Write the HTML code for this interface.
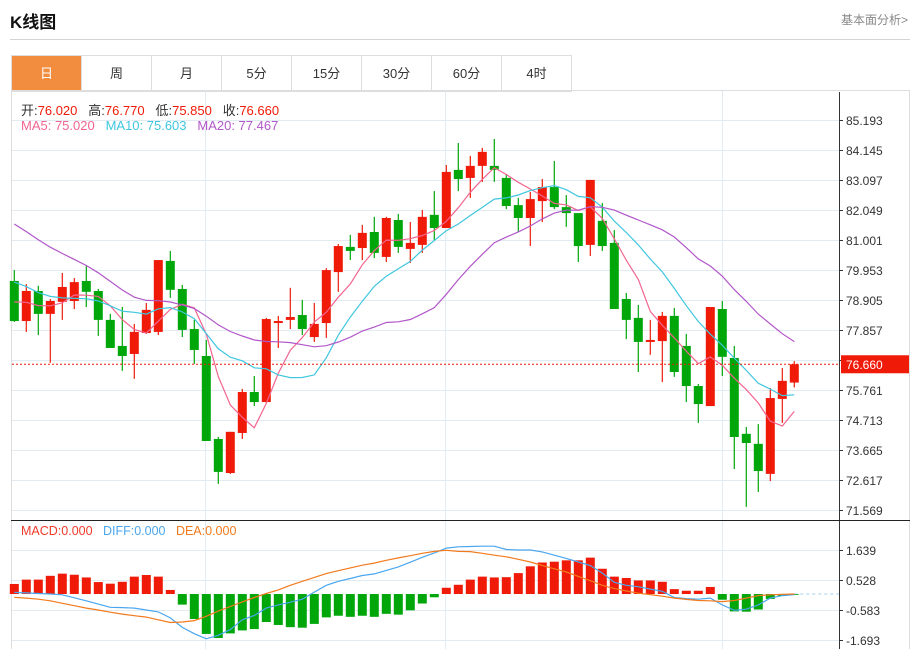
<!DOCTYPE html>
<html><head><meta charset="utf-8">
<style>
body{margin:0;width:916px;height:649px;background:#fff;font-family:"Liberation Sans","Noto Sans CJK SC",sans-serif;overflow:hidden;position:relative}
.title{position:absolute;left:10px;top:8px;font-size:17px;font-weight:bold;color:#111}
.more{position:absolute;right:8px;top:11px;font-size:12px;color:#888}
.hline{position:absolute;left:10px;width:900px;top:39px;height:1px;background:#d4d4d4}
.tabs{position:absolute;left:11px;top:55px;height:35px;display:flex;border:1px solid #ddd;border-right:none}
.tab{width:69px;height:35px;border-right:1px solid #ddd;text-align:center;line-height:35px;font-size:13px;color:#333}
.tab.on{background:#f28c3e;color:#fff}
svg{position:absolute;left:0;top:0}
</style></head><body>
<div class="title">K线图</div>
<div class="more">基本面分析&gt;</div>
<div class="hline"></div>
<div class="tabs">
<div class="tab on">日</div>
<div class="tab">周</div>
<div class="tab">月</div>
<div class="tab">5分</div>
<div class="tab">15分</div>
<div class="tab">30分</div>
<div class="tab">60分</div>
<div class="tab">4时</div>
</div>
<svg id="c" width="916" height="649"></svg>
<script>
const opens=[79.57,78.17,79.22,78.42,78.84,78.87,79.57,79.22,78.21,77.30,77.02,77.75,77.79,80.27,79.29,77.89,76.95,74.05,72.86,74.26,75.69,75.34,78.10,78.21,78.38,77.61,78.10,79.88,80.76,80.72,81.28,80.41,81.70,80.69,80.83,81.88,81.42,83.45,83.17,83.59,83.59,83.17,82.22,81.77,82.36,82.85,82.15,81.94,80.83,81.67,80.90,78.94,78.28,77.44,77.47,78.35,77.30,75.90,75.20,78.59,76.88,74.23,73.88,72.83,75.45,76.02];
const highs=[79.95,79.46,79.40,78.94,79.85,79.67,80.13,79.29,78.42,78.66,78.07,78.80,80.30,80.62,79.43,78.21,77.51,74.12,74.30,75.80,76.25,78.28,78.35,79.33,78.91,78.80,80.02,80.86,81.18,81.53,81.81,81.81,81.91,81.63,82.05,82.71,83.62,84.39,83.94,84.22,84.53,83.31,82.47,82.68,83.13,83.76,82.57,81.94,83.10,82.29,81.35,79.15,78.73,78.21,78.49,78.63,77.72,75.97,78.66,78.87,77.30,74.47,74.57,75.83,76.53,76.77];
const lows=[78.14,77.79,77.68,76.71,78.21,78.59,78.66,77.65,77.23,76.43,76.15,77.72,77.68,78.98,77.61,76.67,73.98,72.48,72.83,74.05,75.20,75.31,77.23,77.89,77.68,77.44,77.58,79.19,80.30,80.30,80.37,80.23,80.55,80.20,80.55,81.00,81.42,82.71,82.47,83.03,83.03,82.08,81.28,80.79,81.63,82.08,81.46,80.23,80.44,80.62,78.59,77.54,76.39,76.99,76.04,76.22,75.34,74.61,75.20,76.25,73.00,71.68,72.20,72.58,74.61,75.85];
const closes=[78.17,79.22,78.42,78.87,79.36,79.53,79.19,78.21,77.23,76.95,77.79,78.56,80.30,79.26,77.86,77.16,73.98,72.90,74.30,75.69,75.34,78.24,78.17,78.31,77.89,78.07,79.95,80.79,80.62,81.25,80.55,81.77,80.76,80.90,81.81,81.42,83.38,83.13,83.59,84.08,83.45,82.19,81.77,82.43,82.85,82.15,81.94,80.79,83.10,80.79,78.59,78.21,77.44,77.51,78.35,76.39,75.90,75.27,78.66,76.92,74.12,73.91,72.93,75.48,76.08,76.66];
const priorCloses=[84.5,84.2,84.0,83.8,83.6,83.5,83.3,83.2,83.0,82.8,80.8,80.5,80.2,79.9,79.7,79.3,79.0,78.9,78.83];
const macdBars=[0.37,0.53,0.53,0.67,0.75,0.71,0.61,0.44,0.38,0.45,0.64,0.70,0.64,0.15,-0.39,-0.92,-1.47,-1.62,-1.45,-1.34,-1.29,-1.03,-1.14,-1.22,-1.24,-1.10,-0.86,-0.80,-0.84,-0.80,-0.84,-0.73,-0.76,-0.60,-0.35,-0.12,0.23,0.34,0.53,0.64,0.61,0.62,0.77,1.02,1.16,1.19,1.24,1.24,1.34,0.93,0.64,0.59,0.50,0.50,0.45,0.18,0.12,0.12,0.26,-0.21,-0.64,-0.65,-0.57,-0.18,-0.07,-0.02];
const diffVals=[0.06,0.04,0.02,0,-0.03,-0.14,-0.25,-0.37,-0.49,-0.50,-0.52,-0.59,-0.66,-0.88,-1.23,-1.46,-1.65,-1.52,-1.31,-0.95,-0.79,-0.52,-0.40,-0.30,-0.19,0.07,0.32,0.47,0.57,0.68,0.74,0.87,1.0,1.17,1.35,1.51,1.69,1.74,1.75,1.76,1.76,1.64,1.62,1.62,1.55,1.43,1.31,1.18,1.05,0.77,0.43,0.32,0.27,0.18,0.10,-0.13,-0.17,-0.19,-0.15,-0.40,-0.60,-0.56,-0.40,-0.15,-0.06,-0.02];
const deaVals=[-0.12,-0.15,-0.19,-0.25,-0.34,-0.43,-0.52,-0.59,-0.67,-0.74,-0.80,-0.85,-0.95,-1.05,-1.03,-0.98,-0.82,-0.63,-0.46,-0.29,-0.13,0.02,0.15,0.32,0.47,0.61,0.75,0.86,0.96,1.06,1.14,1.24,1.33,1.41,1.50,1.57,1.61,1.57,1.56,1.50,1.43,1.37,1.28,1.18,1.05,0.93,0.81,0.65,0.49,0.32,0.20,0.11,0.03,-0.02,-0.08,-0.15,-0.20,-0.24,-0.25,-0.28,-0.24,-0.15,-0.06,-0.03,-0.01,0];
const priceTicks=["85.193","84.145","83.097","82.049","81.001","79.953","78.905","77.857","76.809","75.761","74.713","73.665","72.617","71.569"];
const macdTicks=["1.639","0.528","-0.583","-1.693"];
const priceTop=85.193,priceBot=71.569,macdTop=1.639,macdBot=-1.693;

const NS="http://www.w3.org/2000/svg",svg=document.getElementById('c');
function mk(t,a,p){const e=document.createElementNS(NS,t);for(const k in a)e.setAttribute(k,a[k]);(p||svg).appendChild(e);return e;}
const X=i=>14.3+i*12;
const Y=p=>120+(priceTop-p)*(390/(priceTop-priceBot));
const YM=v=>549.5+(macdTop-v)*(90.5/(macdTop-macdBot));
const RED="#f01a08",GRN="#00a60a";
mk('rect',{x:11.5,y:90.5,width:898,height:560,fill:'none',stroke:'#ddd'});
priceTicks.forEach(t=>{const y=Math.round(Y(+t))+0.5;mk('line',{x1:12,x2:839,y1:y,y2:y,stroke:'#e3ebf2'});
 mk('line',{x1:839,x2:843,y1:y,y2:y,stroke:'#333'});
 const e=mk('text',{x:846,y:y+4.5,'font-size':12,fill:'#333'});e.textContent=t;});
macdTicks.forEach(t=>{const y=Math.round(YM(+t))+0.5;mk('line',{x1:12,x2:839,y1:y,y2:y,stroke:'#e3ebf2'});
 mk('line',{x1:839,x2:843,y1:y,y2:y,stroke:'#333'});
 const e=mk('text',{x:846,y:y+4.5,'font-size':12,fill:'#333'});e.textContent=t;});
[205.5,445.5,722.5].forEach(x=>mk('line',{x1:x,x2:x,y1:91,y2:649,stroke:'#e3ebf2'}));
mk('line',{x1:839.5,x2:839.5,y1:92,y2:649,stroke:'#333'});
mk('line',{x1:11,x2:910,y1:520.5,y2:520.5,stroke:'#222'});
for(let i=0;i<opens.length;i++){
 const up=closes[i]>=opens[i],col=up?RED:GRN,x=X(i);
 const g=mk('g',{});
 mk('line',{x1:x,x2:x,y1:Y(highs[i]),y2:Y(lows[i]),stroke:col,'stroke-width':1.2},g);
 const t=Y(Math.max(opens[i],closes[i])),b=Y(Math.min(opens[i],closes[i]));
 mk('rect',{x:x-4.5,y:t,width:9,height:Math.max(1.5,b-t),fill:col},g);
}
const all=priorCloses.concat(closes),off=priorCloses.length;
function ma(n){return closes.map((c,i)=>{let s=0;for(let k=0;k<n;k++)s+=all[off+i-k];return s/n;});}
[[5,'#f2658f','ma5-line'],[10,'#3fc6df','ma10-line'],[20,'#b257c9','ma20-line']].forEach(([n,c,nm])=>{
 const v=ma(n);const p=mk('polyline',{points:v.map((m,i)=>X(i)+','+Y(m).toFixed(1)).join(' '),fill:'none',stroke:c,'stroke-width':1.2});
 });
const cy=Y(closes[closes.length-1]);
mk('line',{x1:12,x2:839,y1:cy,y2:cy,stroke:RED,'stroke-dasharray':'2,2'});
mk('rect',{x:841,y:cy-9,width:68,height:18,fill:RED});
const pl=mk('text',{x:846,y:cy+4.5,'font-size':12,fill:'#fff'});pl.textContent=closes[closes.length-1].toFixed(3);

const z=YM(0);
mk('line',{x1:X(macdBars.length-1),x2:839,y1:z,y2:z,stroke:'#9fd0ee','stroke-dasharray':'3,3'});
macdBars.forEach((b,i)=>{const y=YM(b);const r=mk('rect',{x:X(i)-4.5,y:Math.min(y,z),width:9,height:Math.max(0.8,Math.abs(y-z)),fill:b>=0?RED:GRN});
 });
[[diffVals,'#4aa6ee','diff-line'],[deaVals,'#f27a1c','dea-line']].forEach(([a,c,nm])=>{
 const p=mk('polyline',{points:a.map((v,i)=>X(i)+','+YM(v).toFixed(1)).join(' '),fill:'none',stroke:c,'stroke-width':1.2});
 });
</script>
<div style="position:absolute;left:21px;top:100px;font-size:13px;white-space:nowrap"><span style="color:#333">开:</span><span style="color:#f01a08">76.020</span>&nbsp;&nbsp;&nbsp;<span style="color:#333">高:</span><span style="color:#f01a08">76.770</span>&nbsp;&nbsp;&nbsp;<span style="color:#333">低:</span><span style="color:#f01a08">75.850</span>&nbsp;&nbsp;&nbsp;<span style="color:#333">收:</span><span style="color:#f01a08">76.660</span></div>
<div style="position:absolute;left:21px;top:118px;font-size:13px;white-space:nowrap"><span style="color:#f2658f">MA5: 75.020</span>&nbsp;&nbsp;&nbsp;<span style="color:#3fc6df">MA10: 75.603</span>&nbsp;&nbsp;&nbsp;<span style="color:#b257c9">MA20: 77.467</span></div>
<div style="position:absolute;left:21px;top:524px;font-size:12.5px;white-space:nowrap"><span style="color:#f03a2a">MACD:0.000</span>&nbsp;&nbsp;&nbsp;<span style="color:#4aa6ee">DIFF:0.000</span>&nbsp;&nbsp;&nbsp;<span style="color:#f27a1c">DEA:0.000</span></div>
</body></html>
